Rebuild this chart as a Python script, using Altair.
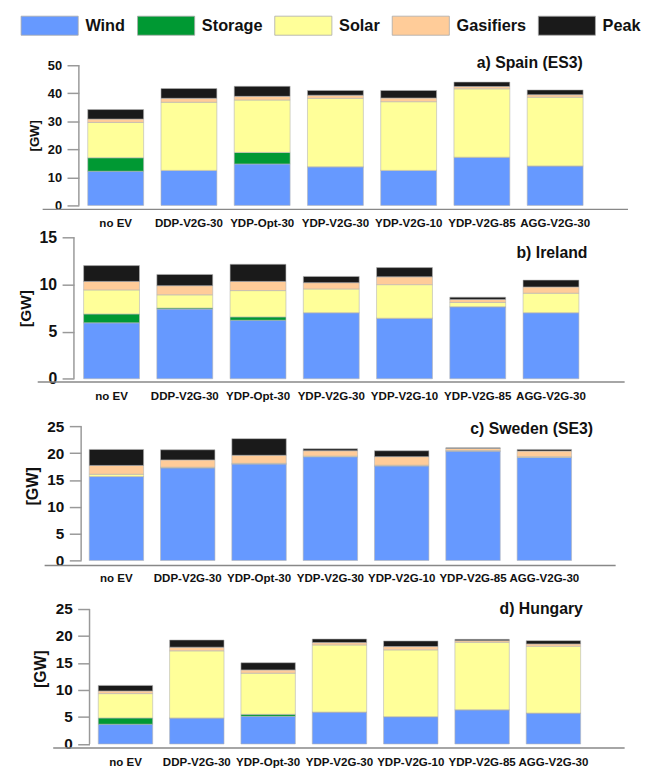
import altair as alt
import pandas as pd

scenarios = ["no EV", "DDP-V2G-30", "YDP-Opt-30", "YDP-V2G-30", "YDP-V2G-10", "YDP-V2G-85", "AGG-V2G-30"]
techs = ["Wind", "Storage", "Solar", "Gasifiers", "Peak"]
colors = ["#6699ff", "#009933", "#ffff99", "#ffcc99", "#1a1a1a"]
panel_titles = ["a) Spain (ES3)", "b) Ireland", "c) Sweden (SE3)", "d) Hungary"]

# Spain (ES3)
spain_wind = [12.2, 12.5, 14.8, 13.8, 12.5, 17.2, 14.1]
spain_storage = [4.8, 0.0, 4.1, 0.0, 0.0, 0.0, 0.0]
spain_solar = [12.6, 24.3, 18.7, 24.4, 24.5, 24.4, 24.5]
spain_gas = [1.2, 1.4, 1.3, 1.1, 1.3, 0.8, 0.9]
spain_peak = [3.4, 3.5, 3.6, 1.7, 2.7, 1.6, 1.7]

# Ireland
ireland_wind = [5.93, 7.39, 6.21, 7.01, 6.42, 7.64, 7.01]
ireland_storage = [0.94, 0.11, 0.35, 0.0, 0.0, 0.0, 0.0]
ireland_solar = [2.55, 1.40, 2.79, 2.51, 3.56, 0.45, 2.06]
ireland_gas = [0.90, 0.97, 0.97, 0.67, 0.83, 0.32, 0.66]
ireland_peak = [1.68, 1.19, 1.82, 0.66, 0.98, 0.24, 0.73]

# Sweden (SE3)
sweden_wind = [15.63, 17.27, 18.00, 19.34, 17.64, 20.38, 19.22]
sweden_storage = [0.0, 0.0, 0.0, 0.0, 0.0, 0.0, 0.0]
sweden_solar = [0.43, 0.10, 0.10, 0.10, 0.10, 0.10, 0.10]
sweden_gas = [1.64, 1.36, 1.49, 1.00, 1.60, 0.38, 1.06]
sweden_peak = [2.98, 1.89, 3.10, 0.36, 1.10, 0.13, 0.30]

# Hungary
hungary_wind = [3.66, 4.82, 5.12, 5.91, 5.06, 6.34, 5.73]
hungary_storage = [1.16, 0.0, 0.37, 0.0, 0.0, 0.0, 0.0]
hungary_solar = [4.51, 12.44, 7.62, 12.44, 12.38, 12.50, 12.38]
hungary_gas = [0.49, 0.67, 0.61, 0.43, 0.61, 0.31, 0.43]
hungary_peak = [1.03, 1.34, 1.34, 0.67, 1.04, 0.24, 0.61]

y_ticks = [[0, 10, 20, 30, 40, 50], [0, 5, 10, 15], [0, 5, 10, 15, 20, 25], [0, 5, 10, 15, 20, 25]]

series = [
    [spain_wind, spain_storage, spain_solar, spain_gas, spain_peak],
    [ireland_wind, ireland_storage, ireland_solar, ireland_gas, ireland_peak],
    [sweden_wind, sweden_storage, sweden_solar, sweden_gas, sweden_peak],
    [hungary_wind, hungary_storage, hungary_solar, hungary_gas, hungary_peak],
]

FONT = "Liberation Sans"

# layout / style per panel (pixels, not data)
layout = [
    dict(h=142.0, ymax=50, xr=(4.7, 524.1), axx=4.5, lfs=13, tfs=13.3, tpad=6,
         base=(-32.2, 560.8, 4.0), tx=515.1, ty=-2.4),
    dict(h=143.3, ymax=15, xr=(0.5, 519.9), axx=-0.5, lfs=16, tfs=15.6, tpad=6,
         base=(-37.2, 557.4, 3.4), tx=519.8, ty=16.0),
    dict(h=151.1, ymax=27.78, xr=(6.4, 512.2), axx=6.8, lfs=15.5, tfs=16.3, tpad=6,
         base=(-30.2, 548.3, 5.0), tx=525.4, ty=18.4),
    dict(h=152.7, ymax=27.93, xr=(15.6, 521.4), axx=15.3, lfs=15.5, tfs=16, tpad=7,
         base=(-21.5, 557.4, 4.0), tx=515.1, ty=16.0),
]
W = 530

legend = alt.Legend(
    orient="none", legendX=-54.9, legendY=-50.7, direction="horizontal", title=None,
    symbolType="M-1,-1H5V1H-1Z", symbolSize=372, symbolStrokeColor="#aaaaaa",
    symbolStrokeWidth=0.8, symbolOpacity=1, labelFont=FONT, labelFontSize=16.5,
    labelFontWeight="bold", labelColor="#111111", labelOffset=45, columnPadding=10,
    padding=0,
)

panels = []
for i in range(4):
    L = layout[i]
    rows = []
    for k, t in enumerate(techs):
        for j, s in enumerate(scenarios):
            rows.append({"scenario": s, "tech": t, "k": k, "value": series[i][k][j]})
    df = pd.DataFrame(rows)
    yscale = alt.Scale(domain=[0, L["ymax"]], nice=False, zero=True)
    yaxis = alt.Axis(title="[GW]", values=y_ticks[i], domain=False, grid=False,
                     tickColor="#999999", tickSize=12, tickWidth=1.5,
                     labelFont=FONT, labelFontSize=L["lfs"], labelFontWeight="bold",
                     labelColor="#111111", labelPadding=5.5,
                     titleFont=FONT, titleFontSize=L["tfs"], titleFontWeight="bold",
                     titleColor="#111111", titlePadding=L["tpad"],
                     offset=-L["axx"])
    bars = alt.Chart(df).mark_bar(stroke="#b4b4b4", strokeWidth=0.6).encode(
        x=alt.X("scenario:N", sort=scenarios,
                scale=alt.Scale(range=list(L["xr"]), paddingInner=0.237, paddingOuter=0.1185),
                axis=alt.Axis(title=None, domain=False, ticks=False, labelAngle=0,
                              labelFont=FONT, labelFontSize=11.7, labelFontWeight="bold",
                              labelColor="#111111", labelPadding=12.5, labelOverlap=False)),
        y=alt.Y("value:Q", stack="zero", scale=yscale, axis=yaxis),
        color=alt.Color("tech:N", scale=alt.Scale(domain=techs, range=colors), legend=legend),
        order=alt.Order("k:Q", sort="ascending"),
    )
    yline = alt.Chart(pd.DataFrame({"a": [0]})).mark_rule(color="#999999", strokeWidth=1.5).encode(
        x=alt.value(L["axx"]),
        y=alt.Y(datum=0, axis=yaxis),
        y2=alt.Y2(datum=y_ticks[i][-1]),
    )
    bx1, bx2, boff = L["base"]
    baseline = alt.Chart(pd.DataFrame({"a": [0]})).mark_rule(color="#888888", strokeWidth=1.5).encode(
        x=alt.value(bx1), x2=alt.value(bx2), y=alt.value(L["h"] + boff),
    )
    title = alt.Chart(pd.DataFrame({"t": [panel_titles[i]]})).mark_text(
        align="right", baseline="middle", font=FONT, fontSize=16, fontWeight="bold", color="#111111"
    ).encode(text="t:N", x=alt.value(L["tx"]), y=alt.value(L["ty"]))
    panel = alt.layer(bars, yline, baseline, title).properties(width=W, height=L["h"])
    panels.append(panel)

chart = alt.vconcat(*panels, spacing=32.3, bounds="flush").properties(
    padding={"left": 10.3, "top": 2, "right": 0, "bottom": 0}
).configure_view(stroke=None).configure_axis(grid=False)

chart.save("out.html", embed_options={"renderer": "svg", "actions": False})
